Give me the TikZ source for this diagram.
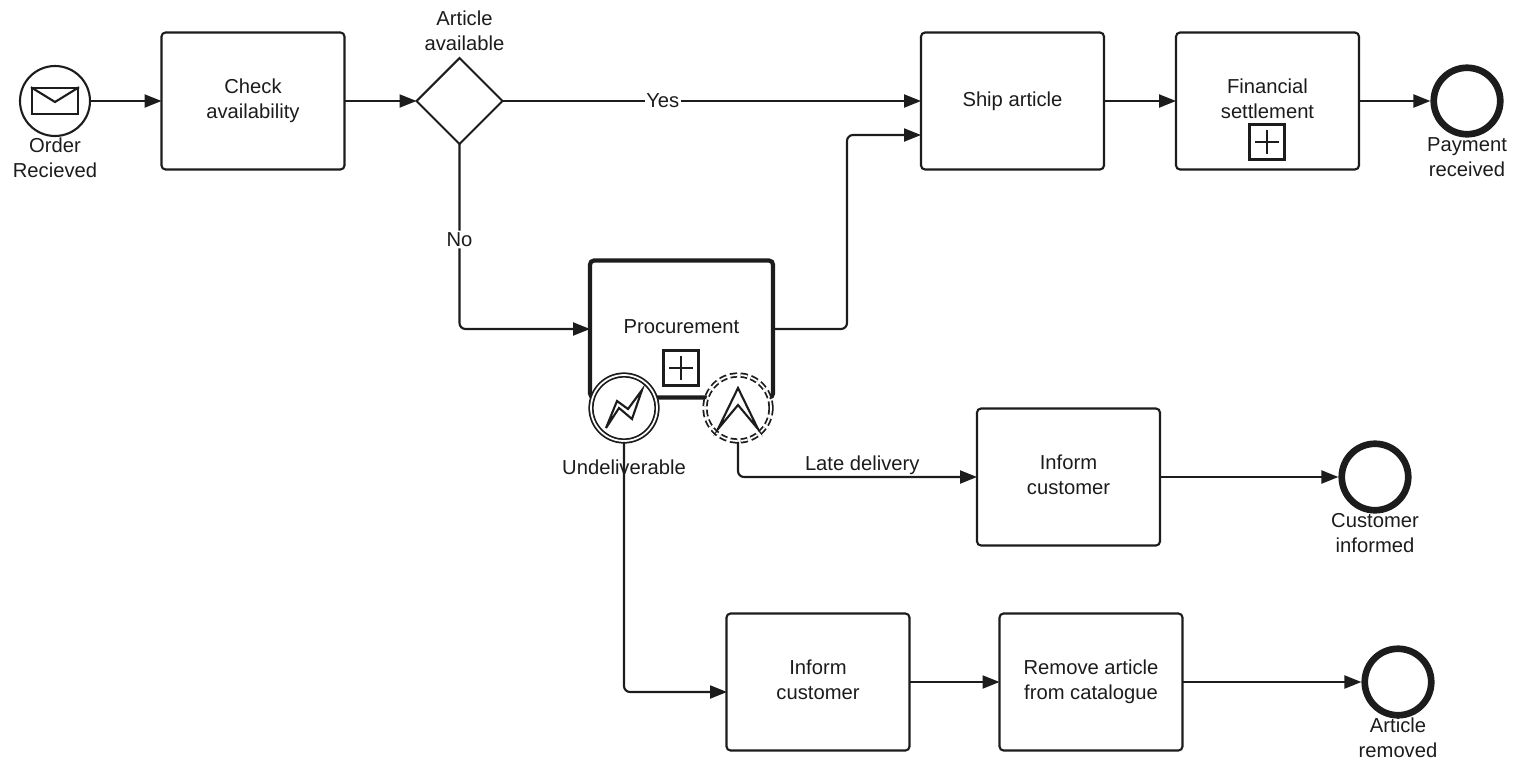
\documentclass[tikz,border=0pt]{standalone}
\usepackage{fontspec}
\setmainfont{Liberation Sans}
\usepackage{xcolor}
\usetikzlibrary{arrows.meta}
\usetikzlibrary{shapes.geometric}
\definecolor{ink}{HTML}{1C1C1C}
\tikzset{
    every node/.style={text=ink, font=\fontsize{11.5}{14.2}\selectfont, align=center},
    task/.style={draw=ink, fill=white, rectangle, rounded corners=0.08cm, line width=1.2pt, minimum width=3.66cm, minimum height=2.74cm, inner sep=0pt, outer sep=0pt},
    gateway/.style={draw=ink, fill=white, line width=1.2pt, shape=diamond, minimum size=1.72cm, inner sep=0pt, outer sep=0pt},
    startevt/.style={draw=ink, fill=white, circle, line width=1.2pt, minimum size=1.4cm, inner sep=0pt, outer sep=0pt},
    endevt/.style={draw=ink, fill=white, circle, line width=3.8pt, minimum size=1.33cm, inner sep=0pt},
    catchevt/.style={draw=ink, fill=white, circle, line width=1pt, double, double distance=1pt, minimum size=1.32cm, inner sep=0pt},
    plusbox/.style={draw=ink, fill=white, rectangle, line width=1.2pt, minimum size=0.7cm, inner sep=0pt,
        path picture={\draw[ink, line width=1.1pt] (path picture bounding box.center) ++(-12,0) -- ++(24,0) (path picture bounding box.center) ++(0,-12) -- ++(0,24);}},
    flow/.style={draw=ink, ->, line width=1.2pt},
    >={Triangle[length=3.4mm,width=2.6mm]}
}
\begin{document}
\begin{tikzpicture}[x=0.02cm, y=-0.02cm]
            \useasboundingbox (0,0) rectangle (1515,758);
            \node[startevt](order) at (55,101){};
            \node[draw=ink, line width=1.2pt, minimum width=0.92cm, minimum height=0.51cm, inner sep=0pt](env) at (55,101){};
            \draw[ink, line width=1.2pt] (env.north west) -- (55,102) -- (env.north east);
            \node[task](check) at (253,101){Check\\availability};
            \node[gateway](avail) at (459.5,101){};
            \node[task](ship) at (1012.5,101){Ship article};
            \node[task](settle) at (1267.5,101){Financial\\settlement\vphantom{y}};
            \node[plusbox](settleplus) at (1267,142){};
            \node[endevt](paid) at (1467,101){};
            \node[task, line width=2.4pt](proc) at (681.5,329){Procurement\vphantom{y}};
            \node[plusbox](procplus) at (681,368){};
            \node[catchevt](undel) at (624,408){};
            \node[catchevt, dash pattern=on 4pt off 2pt](late) at (738,408){};
            \draw[ink, line width=1.2pt] (606,428) -- (617,401) -- (628,409) -- (642,390) -- (632,419) -- (619,408) -- cycle;
            \draw[ink, line width=1.2pt] (718,429) -- (738,388) -- (758,429) -- (738,405) -- cycle;
            \node[task](inform1) at (1068.5,477){Inform\\customer\vphantom{y}};
            \node[endevt](informed) at (1375,477){};
            \node[task](inform2) at (818,682){Inform\\customer\vphantom{y}};
            \node[task](remove) at (1091,682){Remove article\\from catalogue};
            \node[endevt](removed) at (1398,682){};
            \coordinate (shipin) at (921,135);
            \coordinate (shipbend) at (847,135);
            \coordinate (inform2in) at (727,692);
            \path (order) edge[flow] (check);
            \path (check) edge[flow] (avail);
            \path (avail) edge[flow] node [pos=0.383, fill=white, inner sep=1pt] {Yes} (ship);
            \path (ship) edge[flow] (settle);
            \path (settle) edge[flow] (paid);
            \draw[flow, rounded corners=0.12cm] (avail.south) |- node [pos=0.258, fill=white, inner sep=1pt] {No} (proc.west);
            \draw[flow, rounded corners=0.12cm] (proc.east) -| (shipbend) -- (shipin);
            \draw[flow, rounded corners=0.12cm] (late.south) |- node [pos=0.76, above, yshift=-2.6pt] {Late delivery} (inform1.west);
            \path (inform1) edge[flow] (informed);
            \draw[flow, rounded corners=0.12cm] (undel.south) |- (inform2in);
            \path (inform2) edge[flow] (remove);
            \path (remove) edge[flow] (removed);
            \node[inner sep=1pt](orderlbl) at (55,157.5){Order\\Recieved};
            \node[inner sep=1pt](availlbl) at (464.5,30.5){Article\\available};
            \node[inner sep=1pt](paidlbl) at (1467,157.5){Payment\\received};
            \node[inner sep=1pt](undellbl) at (624,467){Undeliverable};
            \node[inner sep=1pt](informedlbl) at (1375,533.5){Customer\\informed};
            \node[inner sep=1pt](removedlbl) at (1398,737.5){Article\\removed};
\end{tikzpicture}
\end{document}
